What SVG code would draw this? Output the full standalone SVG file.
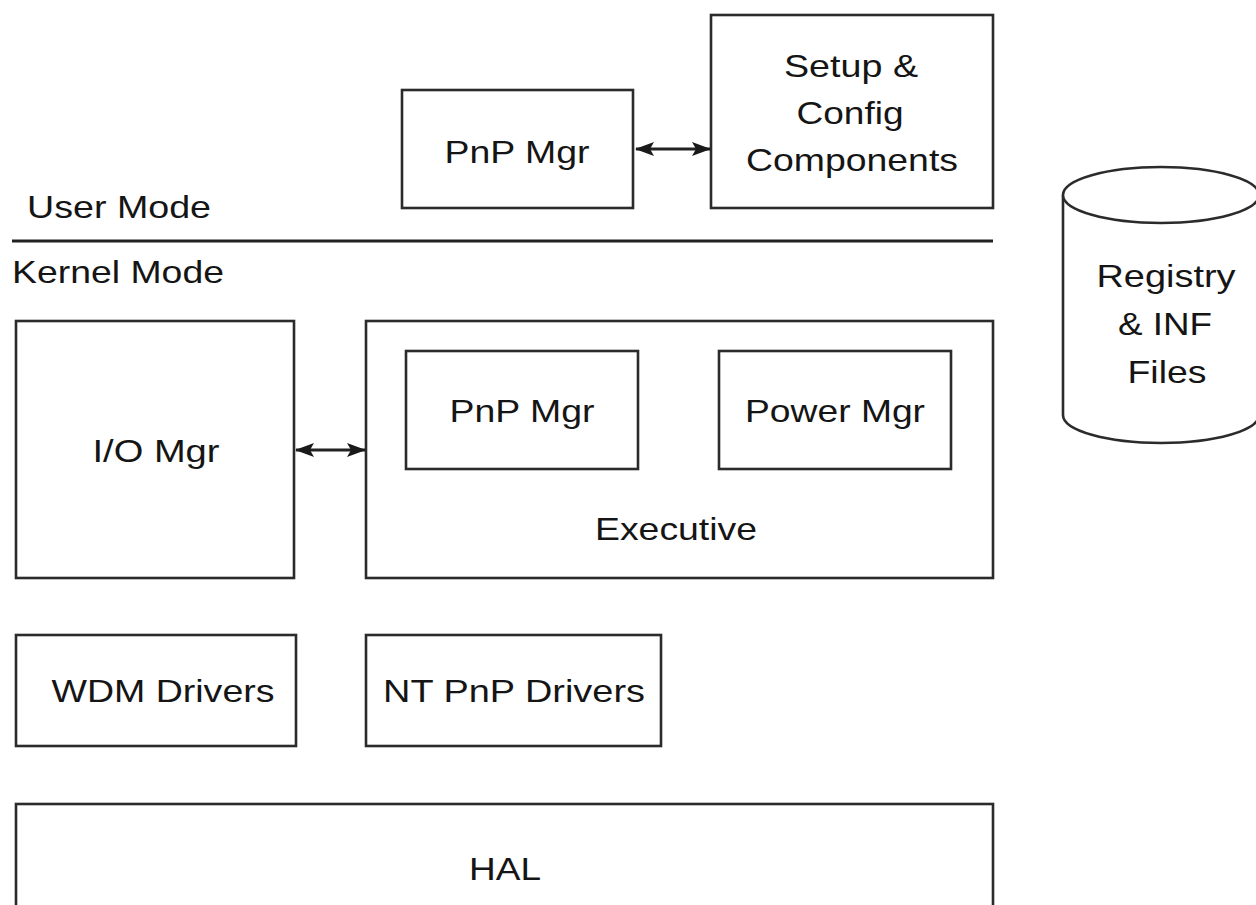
<svg xmlns="http://www.w3.org/2000/svg" width="1256" height="905" viewBox="0 0 1256 905">
  <style>
    .box { fill: #ffffff; stroke: #2b2b2b; stroke-width: 2.6; }
    .lbl { font-family: "Liberation Sans", Arial, sans-serif; font-size: 32px; fill: #151515; }
    .mid { text-anchor: middle; }
    .conn { stroke: #222222; stroke-width: 2.8; fill: none; }
    .sep { stroke: #222222; stroke-width: 3; }
  </style>
  <defs>
    <marker id="head" viewBox="0 0 19 16" refX="18" refY="8" markerWidth="19" markerHeight="16" markerUnits="userSpaceOnUse" orient="auto-start-reverse">
      <path d="M0,1 L19,8 L0,15 L4,8 Z" fill="#1a1a1a"/>
    </marker>
  </defs>
  <rect width="1256" height="905" fill="#ffffff"/>

  <!-- user / kernel boundary -->
  <g id="mode-divider">
    <text class="lbl" x="27" y="218" textLength="184" lengthAdjust="spacingAndGlyphs">User Mode</text>
    <line class="sep" x1="12" y1="241" x2="993" y2="241"/>
    <text class="lbl" x="12" y="283" textLength="212" lengthAdjust="spacingAndGlyphs">Kernel Mode</text>
  </g>

  <g id="user-pnp-mgr">
    <rect class="box" x="402" y="90" width="231" height="118"/>
    <text class="lbl mid" x="517" y="163" textLength="145" lengthAdjust="spacingAndGlyphs">PnP Mgr</text>
  </g>

  <g id="setup-config">
    <rect class="box" x="711" y="15" width="282" height="193"/>
    <text class="lbl mid" x="851" y="77" textLength="134" lengthAdjust="spacingAndGlyphs">Setup &amp;</text>
    <text class="lbl mid" x="850" y="124" textLength="107" lengthAdjust="spacingAndGlyphs">Config</text>
    <text class="lbl mid" x="852" y="171" textLength="212" lengthAdjust="spacingAndGlyphs">Components</text>
  </g>

  <g id="registry">
    <path class="box" d="M1063,195 L1063,415 A98,28 0 0 0 1259,415 L1259,195" stroke-width="3"/>
    <ellipse class="box" cx="1161" cy="195" rx="98" ry="28" stroke-width="3"/>
    <text class="lbl mid" x="1166" y="287" textLength="139" lengthAdjust="spacingAndGlyphs">Registry</text>
    <text class="lbl mid" x="1165" y="335" textLength="94" lengthAdjust="spacingAndGlyphs">&amp; INF</text>
    <text class="lbl mid" x="1167" y="383" textLength="79" lengthAdjust="spacingAndGlyphs">Files</text>
  </g>

  <g id="io-mgr">
    <rect class="box" x="16" y="321" width="278" height="257"/>
    <text class="lbl mid" x="156" y="462" textLength="127" lengthAdjust="spacingAndGlyphs">I/O Mgr</text>
  </g>

  <g id="executive">
    <rect class="box" x="366" y="321" width="627" height="257"/>
    <text class="lbl mid" x="676" y="540" textLength="162" lengthAdjust="spacingAndGlyphs">Executive</text>
  </g>

  <g id="kernel-pnp-mgr">
    <rect class="box" x="406" y="351" width="232" height="118"/>
    <text class="lbl mid" x="522" y="422" textLength="145" lengthAdjust="spacingAndGlyphs">PnP Mgr</text>
  </g>

  <g id="power-mgr">
    <rect class="box" x="719" y="351" width="232" height="118"/>
    <text class="lbl mid" x="835" y="422" textLength="180" lengthAdjust="spacingAndGlyphs">Power Mgr</text>
  </g>

  <g id="wdm-drivers">
    <rect class="box" x="16" y="635" width="280" height="111"/>
    <text class="lbl mid" x="163" y="702" textLength="223" lengthAdjust="spacingAndGlyphs">WDM Drivers</text>
  </g>

  <g id="nt-pnp-drivers">
    <rect class="box" x="366" y="635" width="295" height="111"/>
    <text class="lbl mid" x="514" y="702" textLength="262" lengthAdjust="spacingAndGlyphs">NT PnP Drivers</text>
  </g>

  <g id="hal">
    <rect class="box" x="16" y="804" width="977" height="130"/>
    <text class="lbl mid" x="505" y="880" textLength="72" lengthAdjust="spacingAndGlyphs">HAL</text>
  </g>

  <!-- two-way links -->
  <g id="connectors">
    <line class="conn" x1="636" y1="149" x2="710" y2="149" marker-start="url(#head)" marker-end="url(#head)"/>
    <line class="conn" x1="296" y1="450" x2="365" y2="450" marker-start="url(#head)" marker-end="url(#head)"/>
  </g>
</svg>
